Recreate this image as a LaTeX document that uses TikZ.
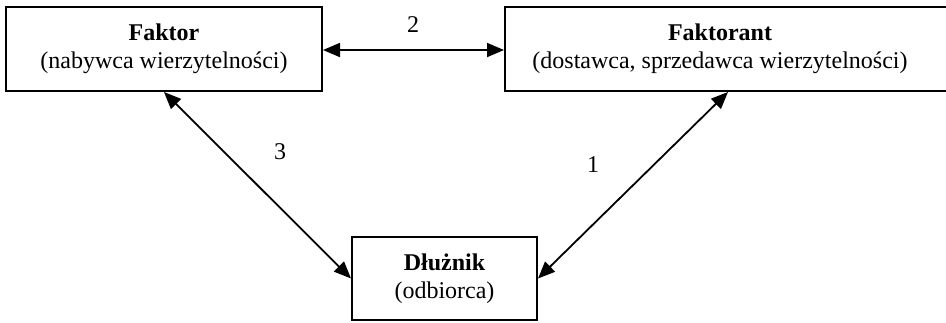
\documentclass[tikz,border=0pt]{standalone}
\usepackage{fontspec}
\setmainfont{Liberation Serif}
\usetikzlibrary{arrows.meta}
\begin{document}
\begin{tikzpicture}[x=1pt,y=-1pt,
  box/.style={draw=black,line width=2pt,rectangle,inner sep=0pt,align=center,
    font=\fontsize{24}{28}\selectfont},
  lbl/.style={font=\fontsize{24}{28}\selectfont,inner sep=0pt},
  conn/.style={line width=1.8pt,{Triangle[length=17pt,width=14pt]}-{Triangle[length=17pt,width=14pt]}}]
\useasboundingbox (0,0) rectangle (946,322);
\node[box,minimum width=316pt,minimum height=84pt] (f) at (164,49)
  {\textbf{Faktor}\\(nabywca wierzytelności)};
\node[box,minimum width=445pt,minimum height=84pt] (fa) at (727.5,49) {};
\node[lbl,align=center] (fat) at (720,49)
  {\textbf{Faktorant}\\(dostawca, sprzedawca wierzytelności)};
\node[box,minimum width=185pt,minimum height=83pt] (d) at (444.5,278.5)
  {\textbf{Dłużnik}\\(odbiorca)};
\draw[conn] (f.east |- 0,50) -- (fa.west |- 0,50);
\draw[conn] (f.south) -- (d.west);
\draw[conn] (d.east) -- ([xshift=8pt]fa.south -| fat.south);
\node[lbl] (l2) at (413,25) {2};
\node[lbl] (l3) at (280,152) {3};
\node[lbl] (l1) at (593,165) {1};
\end{tikzpicture}
\end{document}
